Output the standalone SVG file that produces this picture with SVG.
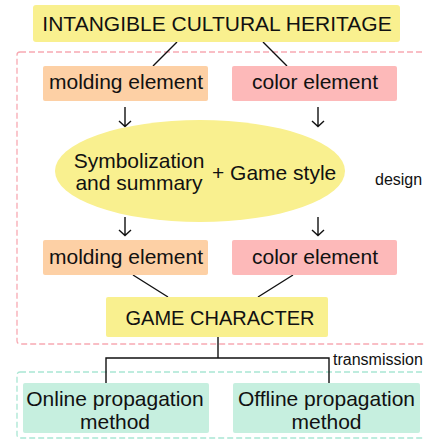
<svg xmlns="http://www.w3.org/2000/svg" width="425" height="439" viewBox="0 0 425 439">
<style>
text{font-family:"Liberation Sans",Arial,sans-serif;fill:#111;}
.t21{font-size:21px;}
.t20{font-size:20px;}
.t16{font-size:16px;}
.mid{text-anchor:middle;}
.ln{stroke:#111;stroke-width:1.4;fill:none;}
.yellow{fill:#f9f08f;}
.peach{fill:#fdd0a5;}
.pink{fill:#fdb9b9;}
.mint{fill:#c6efdf;}
</style>
<rect x="0" y="0" width="425" height="439" fill="#fff"/>
<g id="design-region">
<rect x="17" y="52" width="420" height="292" rx="3" fill="none" stroke="#f7a9b2" stroke-width="1.3" stroke-dasharray="6,3"/>
<text class="t16" x="375" y="185">design</text>
</g>
<g id="transmission-region">
<rect x="17" y="372" width="420" height="66" rx="3" fill="none" stroke="#a9e6d3" stroke-width="1.3" stroke-dasharray="6,3"/>
<text class="t16" x="333" y="365">transmission</text>
</g>
<g id="connectors">
<path class="ln" d="M177,42 L153,66 M263,42 L287,66"/>
<path class="ln" d="M125,107 V126 M119,121 L125,126.5 L131,121"/>
<path class="ln" d="M318,107 V126 M312,121 L318,126.5 L324,121"/>
<path class="ln" d="M125,217 V235 M119,230 L125,235.5 L131,230"/>
<path class="ln" d="M318,217 V235 M312,230 L318,235.5 L324,230"/>
<path class="ln" d="M133,275 L168,297 M293,275 L258,297"/>
<path class="ln" d="M218,337 V358 M106,383 V358 H329 V383"/>
</g>
<g id="heritage">
<rect class="yellow" x="33" y="5" width="367" height="37" rx="3"/>
<text class="t21 mid" x="217" y="31">INTANGIBLE CULTURAL HERITAGE</text>
</g>
<g id="molding1">
<rect class="peach" x="43" y="66" width="165" height="35" rx="2"/>
<text class="t21 mid" x="126" y="89">molding element</text>
</g>
<g id="color1">
<rect class="pink" x="232" y="66" width="165" height="35" rx="2"/>
<text class="t21 mid" x="315" y="89">color element</text>
</g>
<g id="symbolization">
<ellipse class="yellow" cx="200" cy="171" rx="145" ry="51"/>
<text class="t21 mid" x="139" y="168">Symbolization</text>
<text class="t21 mid" x="139" y="190">and summary</text>
<text class="t21" x="212" y="180">+ Game style</text>
</g>
<g id="molding2">
<rect class="peach" x="43" y="240" width="165" height="35" rx="2"/>
<text class="t21 mid" x="126" y="264">molding element</text>
</g>
<g id="color2">
<rect class="pink" x="232" y="240" width="165" height="35" rx="2"/>
<text class="t21 mid" x="315" y="264">color element</text>
</g>
<g id="game-character">
<rect class="yellow" x="106" y="297" width="222" height="40" rx="2"/>
<text class="t20 mid" x="220" y="325">GAME CHARACTER</text>
</g>
<g id="online">
<rect class="mint" x="23" y="383" width="186" height="50" rx="2"/>
<text class="t21 mid" x="115" y="406">Online propagation</text>
<text class="t21 mid" x="115" y="429">method</text>
</g>
<g id="offline">
<rect class="mint" x="233" y="383" width="187" height="50" rx="2"/>
<text class="t21 mid" x="326.5" y="406">Offline propagation</text>
<text class="t21 mid" x="326.5" y="429">method</text>
</g>
</svg>
